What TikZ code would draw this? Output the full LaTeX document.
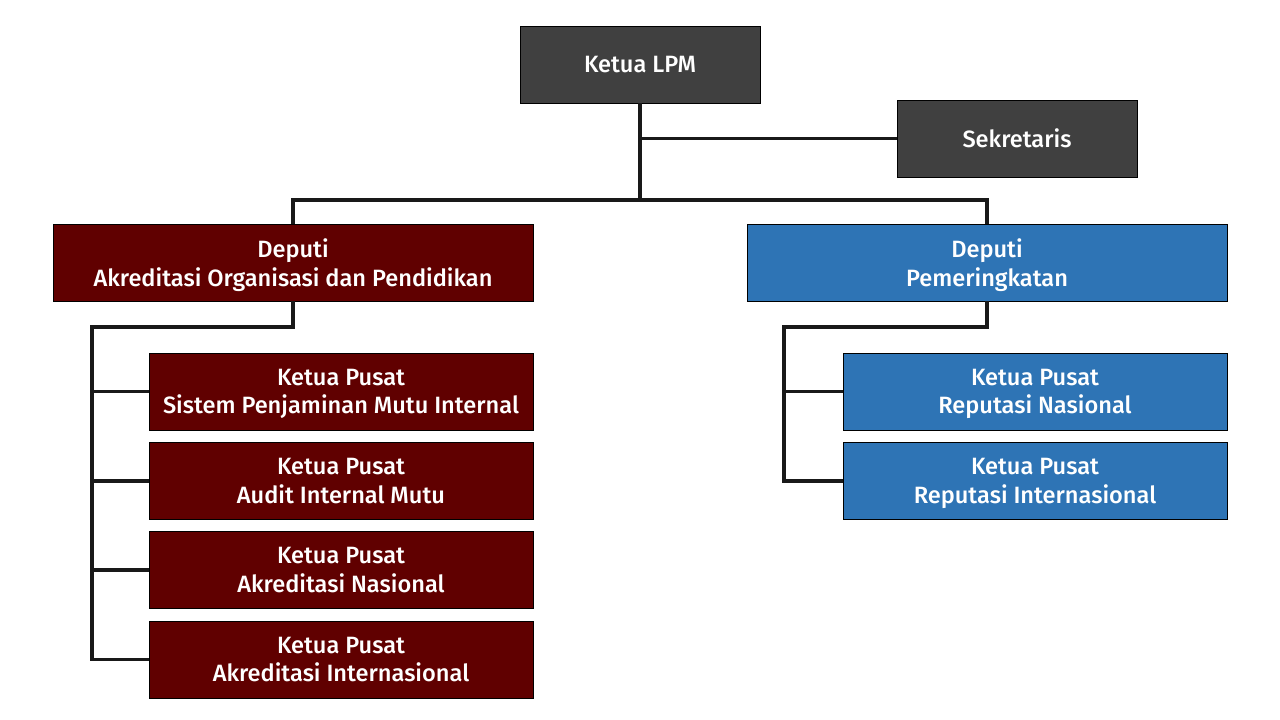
\documentclass[tikz,border=0pt]{standalone}
\usepackage{fontspec}
\setmainfont{Fira Sans}[UprightFont=* Medium]
\definecolor{boxgray}{HTML}{404040}
\definecolor{boxred}{HTML}{600000}
\definecolor{boxblue}{HTML}{2E74B5}
\begin{document}
\begin{tikzpicture}[x=1pt,y=-1pt,
  box/.style={draw=black,line width=0.8pt,text=white,align=center,
    minimum height=77pt,inner sep=0pt,text depth=0pt,
    font=\fontsize{23.6}{28.5}\selectfont},
  graybox/.style={box,fill=boxgray,minimum width=240pt},
  redbox/.style={box,fill=boxred,minimum width=480pt},
  bluebox/.style={box,fill=boxblue,minimum width=480pt},
  redsub/.style={box,fill=boxred,minimum width=384pt},
  bluesub/.style={box,fill=boxblue,minimum width=384pt},
  conn/.style={draw=black!90,line width=3.5pt}]
\useasboundingbox (0,0) rectangle (1280,720);
\coordinate (bus) at (640,200);
\coordinate (lk) at (92,327);
\coordinate (rk) at (784,327);
\node[graybox] (lpm) at (640,64.5) {Ketua LPM};
\node[graybox] (sek) at (1017,138.5) {Sekretaris};
\node[redbox] (dl) at (293,262.5) {Deputi\\Akreditasi Organisasi dan Pendidikan};
\node[bluebox] (dr) at (987,262.5) {Deputi\\Pemeringkatan};
\node[redsub] (c1) at (341,391.5) {Ketua Pusat\\Sistem Penjaminan Mutu Internal};
\node[redsub] (c2) at (341,481) {Ketua Pusat\\Audit Internal Mutu};
\node[redsub] (c3) at (341,570) {Ketua Pusat\\Akreditasi Nasional};
\node[redsub] (c4) at (341,659.5) {Ketua Pusat\\Akreditasi Internasional};
\node[bluesub] (r1) at (1035,391.5) {Ketua Pusat\\Reputasi Nasional};
\node[bluesub] (r2) at (1035,481) {Ketua Pusat\\Reputasi Internasional};
\begin{scope}[line join=miter]
\draw[conn] (lpm.south) -- (bus);
\draw[conn] (lpm.south |- sek.west) -- (sek.west);
\draw[conn] (dl.north) |- (bus) -| (dr.north);
\draw[conn] (dl.south) |- (lk) |- (c4.west);
\draw[conn] (lk |- c1.west) -- (c1.west);
\draw[conn] (lk |- c2.west) -- (c2.west);
\draw[conn] (lk |- c3.west) -- (c3.west);
\draw[conn] (dr.south) |- (rk) |- (r2.west);
\draw[conn] (rk |- r1.west) -- (r1.west);
\end{scope}
\end{tikzpicture}
\end{document}
